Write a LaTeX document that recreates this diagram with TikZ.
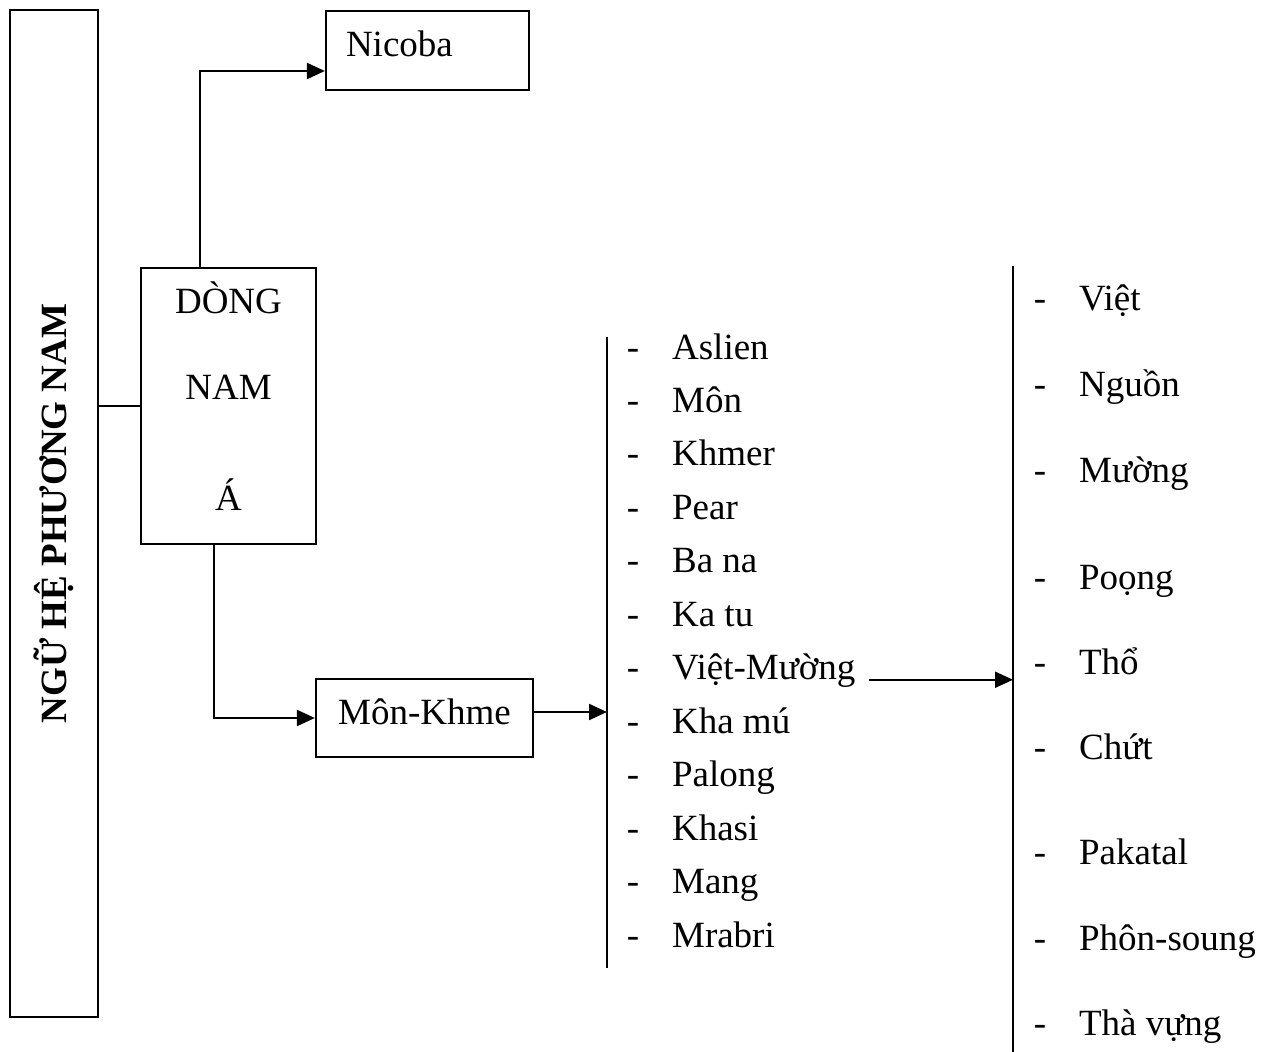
\documentclass[tikz,border=0pt]{standalone}
\usepackage{fontspec}
\setmainfont{Liberation Serif}
\usetikzlibrary{arrows.meta}

\begin{document}
\begin{tikzpicture}[x=1pt, y=-1pt, line width=2.2pt,
  every node/.style={font=\fontsize{37}{86}\selectfont},
  langbox/.style={draw, rectangle, align=center, inner sep=0pt},
  langitem/.style={inner sep=0pt, anchor=base west},
  link/.style={-{Triangle[length=18pt, width=16pt]}}]

  \useasboundingbox (0,0) rectangle (1275,1052);

  % Nodes
  \node[langbox, rotate=90, minimum width=1007pt, minimum height=88pt, font=\fontsize{37}{44}\selectfont\bfseries] (family) at (54,513.5) {NGỮ HỆ PHƯƠNG NAM};
  \node[langbox, minimum width=175pt, minimum height=276pt, text depth=20pt] (dong) at (228.5,406) {DÒNG\\NAM\\[25pt]Á};
  \node[langbox, minimum width=203pt, minimum height=79pt, text width=163pt, align=left, text height=25pt, text depth=14pt] (nicoba) at (427.5,50.5) {Nicoba};
  \node[langbox, minimum width=217pt, minimum height=78pt, text height=24pt, text depth=12pt] (monkhme) at (424.5,718) {Môn-Khme};

  % Bars
  \coordinate (bar1top) at (607,337);
  \coordinate (bar1bot) at (607,968);
  \coordinate (bar2top) at (1013,266);
  \coordinate (bar2bot) at (1013,1052);
  \draw (bar1top) -- (bar1bot);
  \draw (bar2top) -- (bar2bot);

  % Lists
  \foreach \lang [count=\i] in {Aslien,Môn,Khmer,Pear,Ba na,Ka tu,Việt-Mường,Kha mú,Palong,Khasi,Mang,Mrabri} {
    \node[langitem, anchor=base] (mkdash\i) at (633,305.6+53.45*\i) {-};
    \node[langitem] (mk\i) at (671,305.6+53.45*\i) {\lang};
  }
  \foreach \lang/\y [count=\i] in {Việt/310,Nguồn/396,Mường/482,Poọng/589,Thổ/674,Chứt/759,Pakatal/864,Phôn-soung/950,Thà vựng/1035} {
    \node[langitem, anchor=base] (vmdash\i) at (1040,\y) {-};
    \node[langitem] (vm\i) at (1078,\y) {\lang};
  }

  % Arrows
  \coordinate (mkout) at ([yshift=6pt]monkhme.east);
  \draw (family.south |- dong.west) -- (dong.west);
  \draw[link] ([xshift=-28.5pt]dong.north) |- ([yshift=-20.5pt]nicoba.west);
  \draw[link] ([xshift=-14.5pt]dong.south) |- (monkhme.west);
  \draw[link] (mkout) -- (mkout -| bar1top);
  \draw[link] ([xshift=12pt]mk7.base east) -- (mk7.base east -| bar2top);

\end{tikzpicture}
\end{document}
